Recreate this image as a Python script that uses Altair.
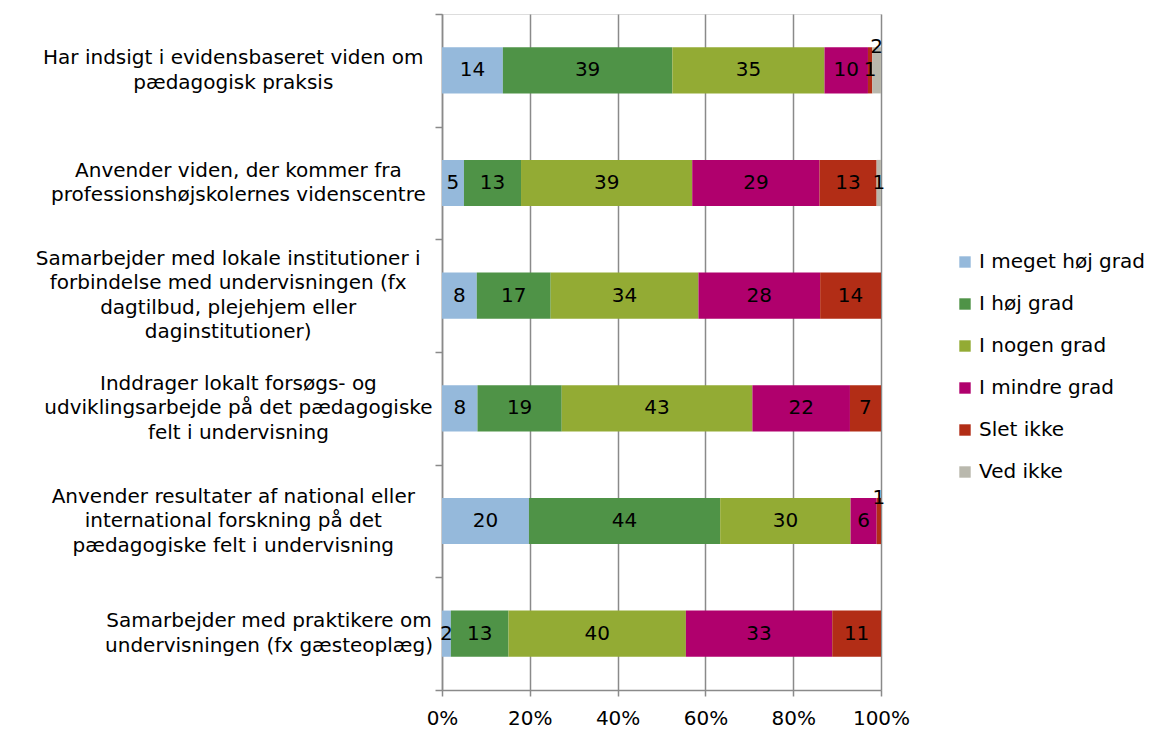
import altair as alt
import pandas as pd

categories = [
    "Har indsigt i evidensbaseret viden om|pædagogisk praksis",
    "Anvender viden, der kommer fra|professionshøjskolernes videnscentre",
    "Samarbejder med lokale institutioner i|forbindelse med undervisningen (fx|dagtilbud, plejehjem eller|daginstitutioner)",
    "Inddrager lokalt forsøgs- og|udviklingsarbejde på det pædagogiske|felt i undervisning",
    "Anvender resultater af national eller|international forskning på det|pædagogiske felt i undervisning",
    "Samarbejder med praktikere om|undervisningen (fx gæsteoplæg)",
]
series = ["I meget høj grad", "I høj grad", "I nogen grad", "I mindre grad", "Slet ikke", "Ved ikke"]
meget_hoej = [14, 5, 8, 8, 20, 2]
hoej = [39, 13, 17, 19, 44, 13]
nogen = [35, 39, 34, 43, 30, 40]
mindre = [10, 29, 28, 22, 6, 33]
slet_ikke = [1, 13, 14, 7, 1, 11]
ved_ikke = [2, 1, 0, 0, 0, 0]
colors = ["#95B9DB", "#4F9347", "#93AB34", "#B0006D", "#B22D16", "#B9B8AD"]
x_ticks = [0, 0.2, 0.4, 0.6, 0.8, 1.0]
# labels raised above the bar to avoid overlap (category index, series)
lifted = [(0, "Ved ikke"), (4, "Slet ikke")]

values = [meget_hoej, hoej, nogen, mindre, slet_ikke, ved_ikke]
rows = []
for ci, c in enumerate(categories):
    for si, s in enumerate(series):
        rows.append({"cat": c, "ci": ci, "series": s, "si": si, "value": values[si][ci]})
df = pd.DataFrame(rows)
cat_df = pd.DataFrame({"cat": categories,
                       "nchar": [max(len(l) for l in c.split("|")) for c in categories],
                       "nlines": [len(c.split("|")) for c in categories]})

W, H = 439, 676
FONT = "DejaVu Sans"
GRAY = "#8a8a8a"
FS = 20
LH = 24.5

yenc = alt.Y("cat:N", sort=categories, title=None,
             scale=alt.Scale(paddingInner=0, paddingOuter=0),
             axis=alt.Axis(labels=False, tickBand="extent", tickSize=7, tickColor=GRAY,
                           tickWidth=1.5, domainColor=GRAY, domainWidth=1.5, grid=False))
xscale = alt.Scale(domain=[0, 1], nice=False, zero=True)

bars = alt.Chart(df).mark_bar(height={"band": 0.41}).encode(
    x=alt.X("value:Q", stack="normalize", scale=xscale, title=None,
            axis=alt.Axis(format="%", values=x_ticks, grid=True, gridColor=GRAY, gridWidth=1.5,
                          domainColor=GRAY, domainWidth=1.5, tickColor=GRAY, tickWidth=1.5,
                          tickSize=6, labelFontSize=FS, labelFont=FONT, labelColor="#000",
                          labelPadding=12, labelFlush=False)),
    y=yenc,
    color=alt.Color("series:N", scale=alt.Scale(domain=series, range=colors),
                    legend=alt.Legend(title=None, orient="none", legendX=513, legendY=238,
                                      symbolType="square", symbolSize=130, symbolStrokeWidth=0,
                                      labelFont=FONT, labelFontSize=FS, labelColor="#000",
                                      rowPadding=22, labelOffset=4, labelLimit=300)),
    order=alt.Order("si:Q"),
)

lift_expr = " || ".join(f"(datum.ci == {i} && datum.series == '{s}')" for i, s in lifted)

stacked = alt.Chart(df).transform_stack(
    stack="value", groupby=["cat"], as_=["x0", "x1"], offset="normalize",
    sort=[alt.SortField("si", order="ascending")]
).transform_calculate(xm="(datum.x0 + datum.x1) / 2").transform_filter("datum.value > 0")

text_enc = dict(
    x=alt.X("xm:Q", scale=xscale, title=None),
    y=alt.Y("cat:N", sort=categories, title=None),
    text=alt.Text("value:Q"),
)
labels = stacked.transform_filter(f"!({lift_expr})").mark_text(
    font=FONT, fontSize=FS, color="#000", baseline="middle", align="center").encode(**text_enc)
labels_up = stacked.transform_filter(lift_expr).mark_text(
    font=FONT, fontSize=FS, color="#000", baseline="middle", align="center", dy=-23).encode(**text_enc)

CW = 0.51 * FS
GAP = 20
cat_labels = alt.Chart(cat_df).transform_calculate(
    lx=f"-({GAP} + datum.nchar * {CW} / 2) / {W}"
).mark_text(font=FONT, fontSize=FS, color="#000", align="center", baseline="middle",
            lineBreak="|", lineHeight=LH,
            dy={"expr": f"-(datum.nlines - 1) * {LH} / 2"}).encode(
    x=alt.X("lx:Q", scale=xscale, title=None),
    y=alt.Y("cat:N", sort=categories, title=None),
    text="cat:N",
)

chart = alt.layer(bars, labels, labels_up, cat_labels).properties(
    width=W, height=H,
    autosize=alt.AutoSizeParams(type="none"),
    padding={"left": 434, "top": 6, "right": 270, "bottom": 40},
).configure_view(stroke=None).configure(font=FONT)

chart.save("out.html", embed_options={"renderer": "svg", "actions": False})
